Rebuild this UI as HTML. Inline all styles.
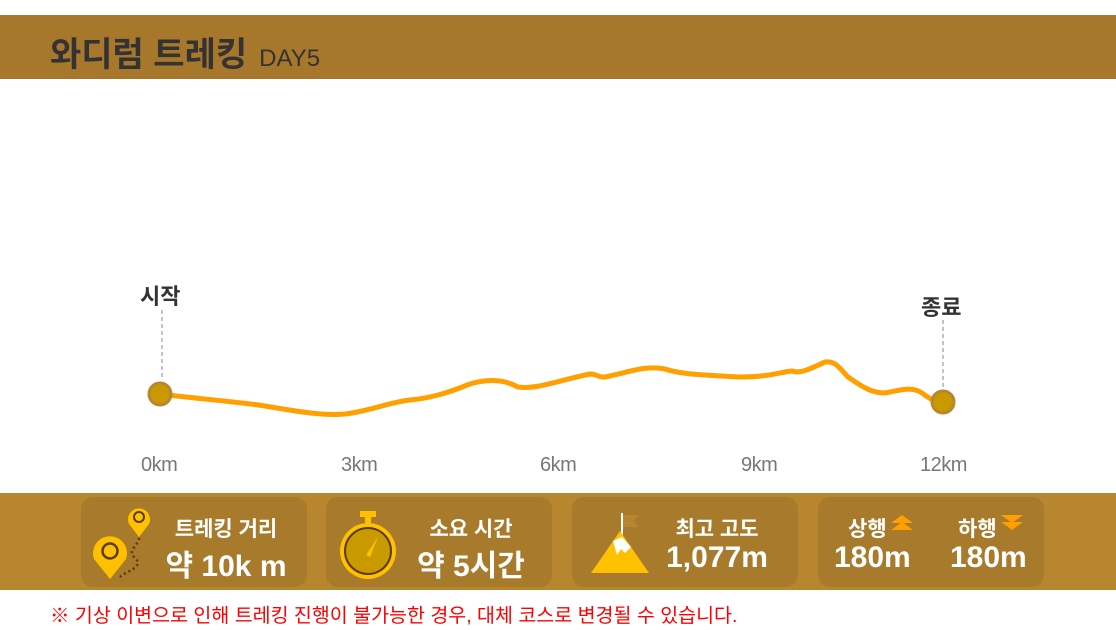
<!DOCTYPE html>
<html><head><meta charset="utf-8"><style>
body{margin:0;width:1116px;height:630px;background:#fff;position:relative;overflow:hidden;font-family:"Liberation Sans","Noto Sans CJK KR",sans-serif}
.hd{position:absolute;left:0;top:15px;width:1116px;height:64px;background:#a7782c}
.hd .t{position:absolute;left:50px;top:12px;font-size:34px;font-weight:bold;color:#333;letter-spacing:0px;white-space:nowrap}
.hd .d{font-size:24px;font-weight:normal;margin-left:12px;letter-spacing:0}
.band{position:absolute;left:0;top:493px;width:1116px;height:97px;background:#b8862e}
.box{position:absolute;top:4px;height:90px;width:226px;background:#a77a2c;border-radius:12px}
.lab{position:absolute;color:#fff;font-weight:bold;font-size:21px;text-align:center}
.val{position:absolute;color:#fff;font-weight:bold;font-size:30px;text-align:center;white-space:nowrap}
.note{position:absolute;left:50px;top:599px;color:#f00;font-size:19.5px;white-space:nowrap}
.ax{position:absolute;top:454px;color:#777;font-size:20px;letter-spacing:-0.5px}
.mk{position:absolute;font-size:22px;font-weight:bold;color:#333}
</style></head><body>
<div class="hd"><div class="t">와디럼 트레킹<span class="d">DAY5</span></div></div>
<svg width="1116" height="630" style="position:absolute;left:0;top:0">
<line x1="162" y1="310" x2="162" y2="380" stroke="#888" stroke-dasharray="4,3"/>
<line x1="943" y1="320" x2="943" y2="388" stroke="#888" stroke-dasharray="4,3"/>
<path d="M160,394 C200,399 240,402 265,406 C300,412 325,416 345,414 C370,411 390,402 410,400 C430,398 445,394 470,384 C490,378 505,380 518,387 C535,390 560,380 590,374 C598,374 598,378 605,377 C630,372 645,365 665,369 C680,374 700,375 740,377 C770,377 780,372 792,371 C800,374 810,369 825,362 C835,361 838,366 848,377 C860,385 870,393 885,393 C900,390 912,386 922,393 C930,399 935,402 943,402" fill="none" stroke="#ff9f00" stroke-width="5" stroke-linecap="round"/>
<circle cx="160" cy="394" r="11" fill="#c99a00" stroke="#b8862e" stroke-width="3"/>
<circle cx="943" cy="402" r="11" fill="#c99a00" stroke="#b8862e" stroke-width="3"/>
</svg>
<div class="mk" style="left:140px;top:279px">시작</div>
<div class="mk" style="left:921px;top:290px">종료</div>
<div class="ax" style="left:141px">0km</div>
<div class="ax" style="left:341px">3km</div>
<div class="ax" style="left:540px">6km</div>
<div class="ax" style="left:741px">9km</div>
<div class="ax" style="left:920px">12km</div>
<div class="band">
 <div class="box" style="left:81px">
  <svg width="80" height="90" style="position:absolute;left:5px;top:0">
   <path d="M34,80 C40,74 60,70 48,60 C40,52 58,46 52,36" fill="none" stroke="#5a3a10" stroke-width="2.5" stroke-dasharray="2,3"/>
   <path d="M24,82 L8,62 A17,17 0 1 1 40,62 Z" fill="#ffc000"/><circle cx="24" cy="54" r="7.5" fill="none" stroke="#5a3a10" stroke-width="2.5"/>
   <path d="M53,40 L43,27 A11,11 0 1 1 63,27 Z" fill="#ffc000"/><circle cx="53" cy="20" r="5" fill="none" stroke="#5a3a10" stroke-width="2"/>
  </svg>
  <div class="lab" style="left:80px;width:130px;top:16px">트레킹 거리</div>
  <div class="val" style="left:75px;width:140px;top:44px">약 10k m</div>
 </div>
 <div class="box" style="left:326px">
  <svg width="80" height="90" style="position:absolute;left:12px;top:0">
   <rect x="22" y="14" width="16" height="6" fill="#ffc000"/><rect x="27" y="18" width="6" height="9" fill="#ffc000"/>
   <circle cx="30" cy="54" r="28" fill="#ffc000"/><circle cx="30" cy="54" r="23" fill="#c99a00" stroke="#5a3a10" stroke-width="2"/>
   <path d="M28,58 L40,40 L32,60 Z" fill="#ffc000"/>
  </svg>
  <div class="lab" style="left:80px;width:130px;top:16px">소요 시간</div>
  <div class="val" style="left:75px;width:140px;top:44px">약 5시간</div>
 </div>
 <div class="box" style="left:572px">
  <svg width="80" height="90" style="position:absolute;left:15px;top:0">
   <line x1="35" y1="16" x2="35" y2="42" stroke="#fff" stroke-width="2"/><path d="M36,18 L52,18 L46,24 L52,30 L36,30Z" fill="#b8862e"/>
   <path d="M4,76 L33,34 L62,76Z" fill="#ffc000"/><path d="M26,44 L35,40 L44,50 L38,56 L34,52 L30,58 Z" fill="#fff"/>
  </svg>
  <div class="lab" style="left:80px;width:130px;top:16px">최고 고도</div>
  <div class="val" style="left:75px;width:140px;top:44px">1,077m</div>
 </div>
 <div class="box" style="left:818px">
  <div class="lab" style="left:30px;top:16px">상행</div>
  <svg width="24" height="16" style="position:absolute;left:72px;top:18px"><path d="M1,8 L12,0 L23,8Z M1,15 L12,7 L23,15Z" fill="#ff9f00"/></svg>
  <div class="val" style="left:16px;top:44px">180m</div>
  <div class="lab" style="left:140px;top:16px">하행</div>
  <svg width="24" height="16" style="position:absolute;left:182px;top:18px"><path d="M1,0 L12,8 L23,0Z M1,7 L12,15 L23,7Z" fill="#ff9f00"/></svg>
  <div class="val" style="left:132px;top:44px">180m</div>
 </div>
</div>
<div class="note">※ 기상 이변으로 인해 트레킹 진행이 불가능한 경우, 대체 코스로 변경될 수 있습니다.</div>
</body></html>
